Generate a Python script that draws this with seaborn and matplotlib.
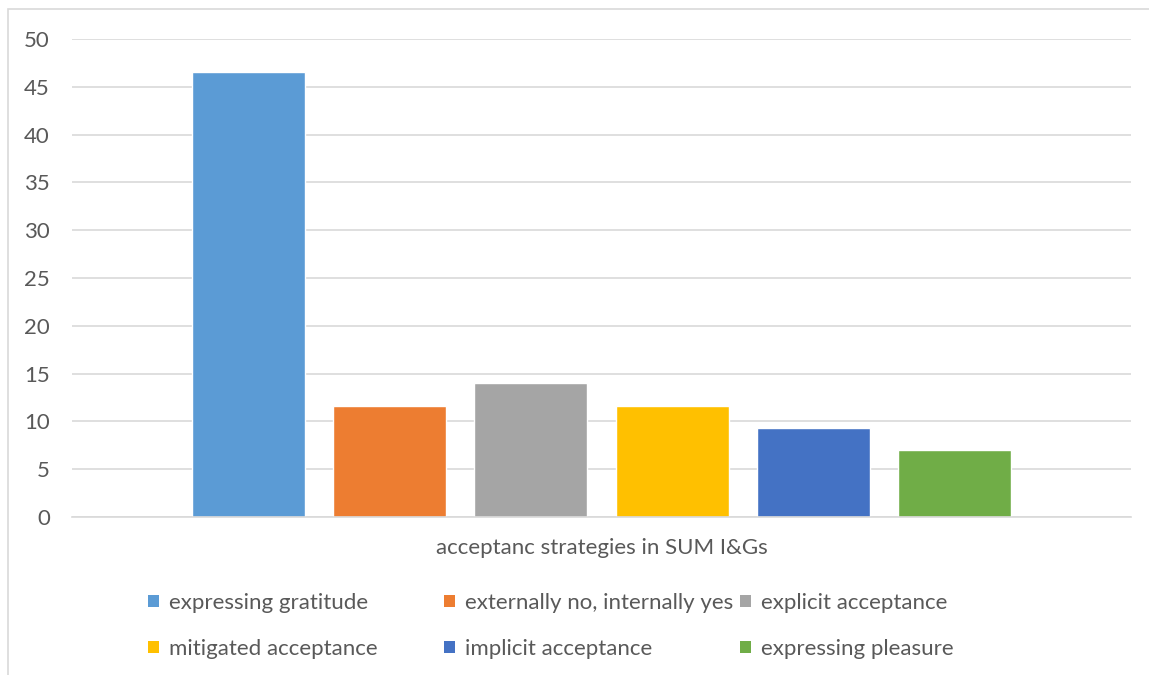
import matplotlib
matplotlib.use("Agg")
import matplotlib.pyplot as plt
from matplotlib.patches import Rectangle, Patch
import seaborn as sns
import pandas as pd

# Share of each acceptance strategy (%)
category = "acceptanc strategies in SUM I&Gs"
strategies = [
    "expressing gratitude",
    "externally no, internally yes",
    "explicit acceptance",
    "mitigated acceptance",
    "implicit acceptance",
    "expressing pleasure",
]
values = [46.5, 11.6, 14.0, 11.6, 9.3, 7.0]
colors = ["#5B9BD5", "#ED7D31", "#A5A5A5", "#FFC000", "#4472C4", "#70AD47"]
yticks = [0, 5, 10, 15, 20, 25, 30, 35, 40, 45, 50]

df = pd.DataFrame({"category": [category] * len(strategies),
                   "strategy": strategies,
                   "value": values})

sns.set_theme(style="white")
plt.rcParams["font.family"] = ["Lato", "DejaVu Sans"]
text_color = "#595959"
grid_color = "#D9D9D9"
fs = 16

fig = plt.figure(figsize=(11.49, 6.75), dpi=100)
ax = fig.add_axes([72 / 1149, 1 - 517 / 675, (1131 - 72) / 1149, (517 - 39) / 675])

sns.barplot(data=df, x="category", y="value", hue="strategy",
            hue_order=strategies, palette=colors, saturation=1,
            width=0.8, gap=0.2, legend=False, ax=ax)

ax.set_xlim(-0.5, 0.5)
ax.set_ylim(0, 50)
ax.set_yticks(yticks)
ax.set_yticklabels([str(t) for t in yticks])
ax.set_xlabel("")
ax.set_ylabel("")
ax.yaxis.grid(True, color=grid_color, linewidth=1.2)
ax.set_axisbelow(True)
for side in ["top", "right", "left"]:
    ax.spines[side].set_visible(False)
ax.spines["bottom"].set_color(grid_color)
ax.spines["bottom"].set_linewidth(1.2)
ax.tick_params(axis="y", length=0, pad=16, labelsize=fs, labelcolor=text_color)
ax.tick_params(axis="x", length=0, pad=15, labelsize=fs, labelcolor=text_color)

# Outer chart-area border
fig.patches.append(Rectangle((8 / 1149, -0.1), 1.2, 1.1 - 9 / 675,
                             transform=fig.transFigure, fill=False,
                             edgecolor=grid_color, linewidth=1.2))

# Legend: three equal-width columns, two rows
handles = [Patch(facecolor=c, edgecolor="none") for c in colors]
col_x = [148 / 1149, 444 / 1149, 740 / 1149]
for j, x0 in enumerate(col_x):
    idx = [j, j + 3]
    fig.legend([handles[i] for i in idx], [strategies[i] for i in idx],
               loc="upper left", bbox_to_anchor=(x0, 1 - 593 / 675),
               frameon=False, fontsize=fs, handlelength=0.5,
               handleheight=0.5, handletextpad=0.45, labelspacing=1.16,
               borderpad=0, borderaxespad=0, labelcolor=text_color)

fig.savefig("out.png", dpi=100)
